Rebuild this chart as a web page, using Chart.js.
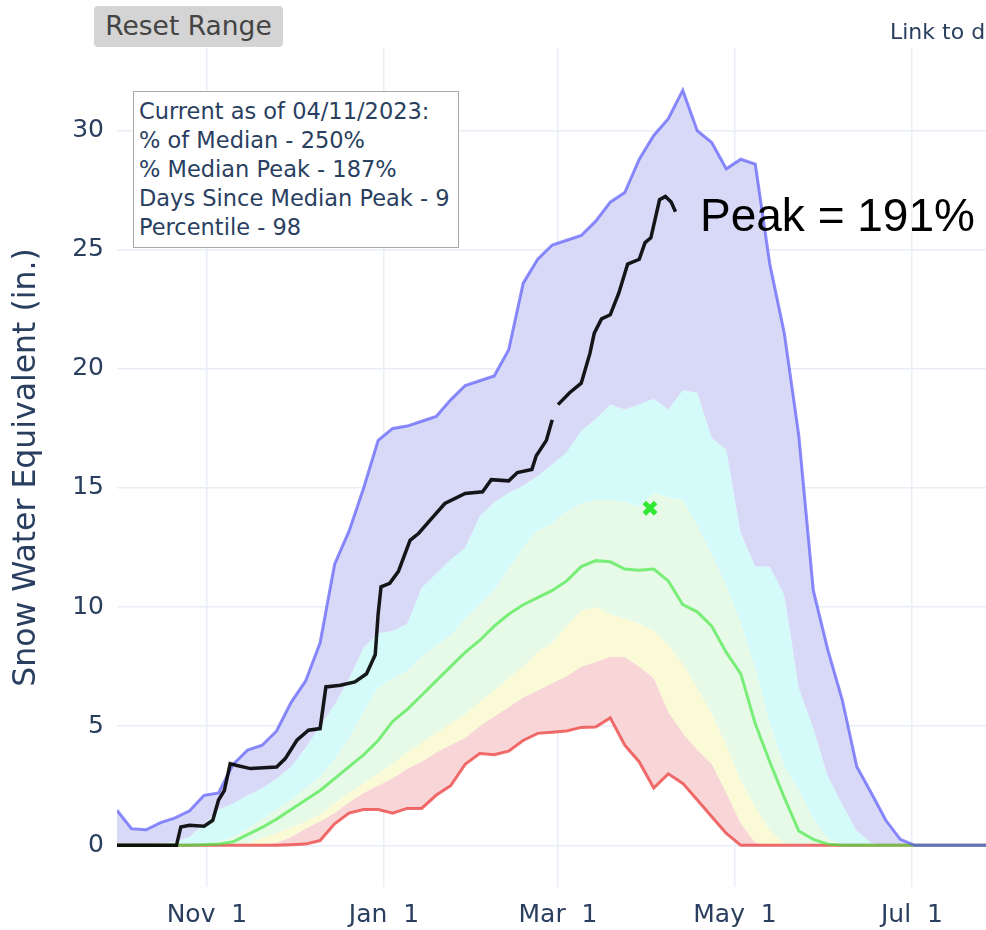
<!DOCTYPE html>
<html>
<head>
<meta charset="utf-8">
<script src="https://cdn.jsdelivr.net/npm/chart.js@4/dist/chart.umd.min.js"></script>
<style>
  html, body { margin: 0; padding: 0; background: #fff; overflow: hidden; }
  #page { position: relative; width: 986px; height: 930px; overflow: hidden; }
  #wrap { position: absolute; left: 0; top: 0; width: 1260px; height: 930px; }
  .reset {
    position: absolute; left: 94px; top: 6px; width: 189px; height: 41px;
    background: #d4d4d4; border-radius: 4px; color: #444;
    font: 26.5px "DejaVu Sans", sans-serif; line-height: 40px; text-align: center;
  }
  .link {
    position: absolute; left: 890px; top: 19px; white-space: nowrap;
    font: 22px "DejaVu Sans", sans-serif; color: #2a3f5f;
  }
  .info {
    position: absolute; left: 133px; top: 91px; width: 319px; height: 150px;
    border: 1.5px solid #a8a8a8; background: #fff; padding: 5px 0 0 5px;
    font: 22.5px "DejaVu Sans", sans-serif; line-height: 29px; color: #2a3f5f;
    white-space: nowrap;
  }
  .peak {
    position: absolute; left: 700px; top: 192px; white-space: nowrap;
    font: 46px "Liberation Sans", Arial, sans-serif; line-height: 46px; color: #000;
  }
</style>
</head>
<body>
<div id="page">
  <div id="wrap"><canvas id="sweChart"></canvas></div>
  <div class="reset">Reset Range</div>
  <div class="link">Link to data</div>
  <div class="info">Current as of 04/11/2023:<br>% of Median - 250%<br>% Median Peak - 187%<br>Days Since Median Peak - 9<br>Percentile - 98</div>
  <div class="peak">Peak = 191%</div>
</div>
<script>
// days since Oct 1 (water year)
const days = [0, 5, 10, 15, 20, 25, 30, 35, 40, 45, 50, 55, 60, 65, 70, 75, 80, 85, 90, 95,
  100, 105, 110, 115, 120, 125, 130, 135, 140, 145, 150, 155, 160, 165, 170, 175, 180, 185, 190, 195,
  200, 205, 210, 215, 220, 225, 230, 235, 240, 245, 250, 255, 260, 265, 270, 275, 280, 290, 300, 365];

const maxSwe = [1.47, 0.7, 0.65, 0.95, 1.15, 1.45, 2.1, 2.2, 3.4, 4.0, 4.2, 4.8, 6.0, 6.9, 8.5, 11.8, 13.2, 15.0, 17.0, 17.5,
  17.6, 17.8, 18.0, 18.7, 19.3, 19.5, 19.7, 20.8, 23.6, 24.6, 25.2, 25.4, 25.6, 26.2, 27.0, 27.4, 28.8, 29.8, 30.5, 31.7,
  30.0, 29.5, 28.4, 28.8, 28.6, 24.4, 21.5, 17.2, 10.7, 8.2, 6.1, 3.3, 2.2, 1.05, 0.25, 0, 0, 0, 0, 0];

const p90 = [0.05, 0.05, 0.05, 0.08, 0.15, 0.35, 0.9, 1.5, 1.75, 2.1, 2.4, 2.8, 3.3, 4.1, 5.0, 5.9, 7.0, 8.3, 8.9, 9.0,
  9.3, 10.8, 11.4, 12.0, 12.5, 13.8, 14.4, 14.8, 15.1, 15.5, 16.0, 16.5, 17.4, 17.9, 18.5, 18.3, 18.5, 18.75, 18.3, 19.1,
  19.0, 17.1, 16.6, 13.1, 11.7, 11.7, 10.5, 6.6, 4.9, 2.9, 1.7, 0.6, 0.1, 0, 0, 0, 0, 0, 0, 0];

const p70 = [0, 0, 0, 0, 0, 0, 0.05, 0.15, 0.35, 0.7, 1.1, 1.5, 1.9, 2.4, 2.9, 3.6, 4.5, 5.6, 6.6, 7.0,
  7.3, 7.9, 8.4, 8.8, 9.5, 10.1, 10.7, 11.6, 12.5, 13.2, 13.5, 14.0, 14.35, 14.5, 14.5, 14.4, 14.2, 14.8, 14.6, 14.5,
  13.4, 12.2, 10.9, 9.3, 7.4, 5.1, 3.3, 2.3, 1.1, 0.3, 0, 0, 0, 0, 0, 0, 0, 0, 0, 0];

const medianSwe = [0, 0, 0, 0, 0, 0, 0.02, 0.05, 0.15, 0.45, 0.75, 1.1, 1.5, 1.9, 2.3, 2.8, 3.3, 3.8, 4.4, 5.2,
  5.7, 6.3, 6.9, 7.5, 8.1, 8.6, 9.2, 9.7, 10.1, 10.4, 10.7, 11.1, 11.7, 11.95, 11.9, 11.6, 11.55, 11.6, 11.1, 10.1,
  9.8, 9.2, 8.1, 7.2, 5.1, 3.5, 2.0, 0.6, 0.25, 0.05, 0, 0, 0, 0, 0, 0, 0, 0, 0, 0];

const p30 = [0, 0, 0, 0, 0, 0, 0, 0, 0.02, 0.06, 0.3, 0.5, 0.75, 1.0, 1.3, 1.75, 2.2, 2.6, 3.0, 3.4,
  3.9, 4.3, 4.7, 5.1, 5.5, 6.0, 6.5, 7.0, 7.5, 8.1, 8.5, 9.2, 9.85, 10.0, 9.7, 9.5, 9.3, 9.0, 8.4, 7.6,
  6.6, 5.5, 4.2, 2.7, 1.6, 0.6, 0.05, 0, 0, 0, 0, 0, 0, 0, 0, 0, 0, 0, 0, 0];

const p10 = [0, 0, 0, 0, 0, 0, 0, 0, 0, 0, 0.02, 0.1, 0.35, 0.7, 1.0, 1.35, 1.8, 2.2, 2.5, 2.8,
  3.2, 3.5, 3.9, 4.2, 4.5, 5.0, 5.4, 5.8, 6.2, 6.5, 6.8, 7.1, 7.5, 7.7, 7.9, 7.9, 7.5, 7.0, 5.6, 4.7,
  4.0, 3.4, 2.2, 0.9, 0.1, 0, 0, 0, 0, 0, 0, 0, 0, 0, 0, 0, 0, 0, 0, 0];

const minSwe = [0, 0, 0, 0, 0, 0, 0, 0, 0, 0, 0, 0, 0.02, 0.05, 0.2, 0.9, 1.35, 1.5, 1.5, 1.35,
  1.55, 1.55, 2.1, 2.5, 3.4, 3.85, 3.8, 3.95, 4.4, 4.7, 4.75, 4.8, 4.95, 4.97, 5.35, 4.2, 3.5, 2.4, 3.0, 2.6,
  1.9, 1.2, 0.5, 0, 0, 0, 0, 0, 0, 0, 0, 0, 0, 0, 0, 0, 0, 0, 0, 0];

// current water year (2023), through Apr 11
const currentDays = [0, 20.5, 22, 25, 30, 33, 35, 37, 39, 41, 46, 55, 58, 62, 66, 70, 72, 77, 82, 86,
  89, 90, 91, 94, 97, 101, 104, 109, 113, 120, 126, 129, 135, 138, 143, 144.5, 148, 150, 151, 152,
  156, 160, 163, 164.5, 167, 170, 173, 176, 180, 182, 184, 187, 189, 191, 192.5];
const currentSwe = [0, 0, 0.77, 0.84, 0.8, 1.05, 1.9, 2.3, 3.43, 3.36, 3.22, 3.29, 3.64, 4.41, 4.83, 4.9, 6.65, 6.72, 6.86, 7.2,
  8.0, 9.7, 10.85, 11.0, 11.5, 12.8, 13.1, 13.8, 14.35, 14.77, 14.84, 15.35, 15.3, 15.65, 15.78, 16.35, 17.0, 17.86, null, 18.5,
  19.0, 19.4, 20.65, 21.5, 22.1, 22.27, 23.2, 24.4, 24.6, 25.3, 25.5, 27.1, 27.24, 27.0, 26.6];

const medianPeakDay = 183.7;
const medianPeakSwe = 14.15;

const xTickDays = [31, 92, 152, 213, 274, 335];
const xTickLabels = ["Nov  1", "Jan  1", "Mar  1", "May  1", "Jul  1", "Sep  1"];
const yTicks = [0, 5, 10, 15, 20, 25, 30];

const toXY = (xs, ys) => xs.map((x, i) => ({ x: x, y: ys[i] }));

function band(values, color) {
  return {
    data: toXY(days, values),
    borderWidth: 0,
    borderColor: "transparent",
    backgroundColor: color,
    fill: "-1",
    pointRadius: 0,
    order: 5,
  };
}

const textColor = "#2a3f5f";
const gridColor = "#e8edf6";
const font = "DejaVu Sans";

const ctx = document.getElementById("sweChart").getContext("2d");
new Chart(ctx, {
  type: "line",
  data: {
    datasets: [
      {
        label: "Min",
        data: toXY(days, minSwe),
        borderColor: "rgba(235,50,50,0.7)",
        borderWidth: 3,
        pointRadius: 0,
        fill: false,
        order: 3,
      },
      band(p10, "#f8d5d6"),
      band(p30, "#fafad7"),
      band(p70, "#e7fae7"),
      band(p90, "#d4fafa"),
      {
        label: "Max",
        data: toXY(days, maxSwe),
        borderColor: "rgba(80,80,250,0.65)",
        backgroundColor: "#d8d8f7",
        borderWidth: 3,
        pointRadius: 0,
        fill: "-1",
        order: 1,
      },
      {
        label: "Median",
        data: toXY(days, medianSwe),
        borderColor: "rgba(60,230,60,0.65)",
        borderWidth: 3,
        pointRadius: 0,
        fill: false,
        order: 2,
      },
      {
        label: "WY2023",
        data: toXY(currentDays, currentSwe),
        borderColor: "rgba(0,0,0,0.9)",
        borderWidth: 3.5,
        pointRadius: 0,
        fill: false,
        spanGaps: false,
        order: 0,
      },
      {
        label: "Median Peak",
        data: [{ x: medianPeakDay, y: medianPeakSwe }],
        showLine: false,
        pointStyle: "crossRot",
        pointRadius: 8,
        borderColor: "#33e833",
        borderWidth: 5,
        order: -1,
      },
    ],
  },
  options: {
    responsive: true,
    maintainAspectRatio: false,
    animation: false,
    layout: { padding: { top: 48, right: 84, left: 0, bottom: 0 } },
    plugins: {
      legend: { display: false },
      tooltip: { enabled: false },
      filler: { drawTime: "beforeDatasetsDraw" },
    },
    elements: { line: { tension: 0 } },
    scales: {
      x: {
        type: "linear",
        min: 0,
        max: 365,
        border: { display: false },
        grid: { color: gridColor, lineWidth: 1.5, drawTicks: false },
        afterBuildTicks: (scale) => {
          scale.ticks = xTickDays.map((v) => ({ value: v }));
        },
        afterFit: (scale) => { scale.height = 43; },
        ticks: {
          autoSkip: false,
          maxRotation: 0,
          padding: 13,
          color: textColor,
          font: { family: font, size: 25 },
          callback: (v) => xTickLabels[xTickDays.indexOf(v)],
        },
      },
      y: {
        min: -1.75,
        max: 33.47,
        border: { display: false },
        grid: { color: gridColor, lineWidth: 1.5, drawTicks: false },
        afterBuildTicks: (scale) => {
          scale.ticks = yTicks.map((v) => ({ value: v }));
        },
        afterFit: (scale) => { scale.width = 117; },
        ticks: {
          padding: 13,
          color: textColor,
          font: { family: font, size: 25 },
        },
        title: {
          display: true,
          text: "Snow Water Equivalent (in.)",
          color: textColor,
          font: { family: font, size: 31.5 },
          padding: { top: 8, bottom: 0 },
        },
      },
    },
  },
});
</script>
</body>
</html>
